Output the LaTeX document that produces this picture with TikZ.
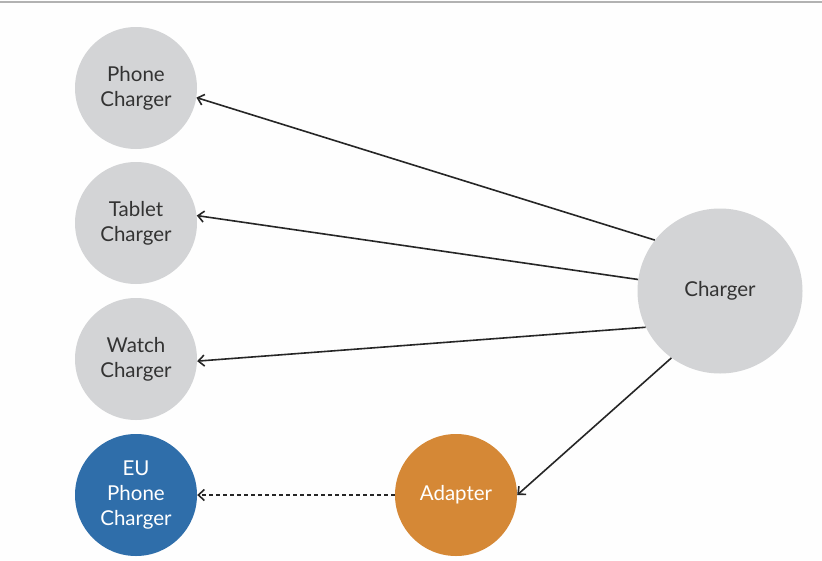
\documentclass[tikz,border=0pt]{standalone}
\usepackage{fontspec}
\setmainfont{Lato}
\usepackage{xcolor}
\usetikzlibrary{arrows.meta, positioning}

\definecolor{nutxam}{HTML}{D3D4D6}
\definecolor{nutxanh}{HTML}{2F6EAA}
\definecolor{nutcam}{HTML}{D58836}
\definecolor{chu}{HTML}{333333}

\tikzset{
    nut/.style={circle, fill=nutxam, minimum size=122pt, inner sep=0pt,
        align=center, text=chu, font=\fontsize{20.5}{25}\selectfont},
    muiten/.style={->, line width=1.6pt, black!85}
}

\begin{document}
\begin{tikzpicture}[>={Straight Barb[length=6pt, width=11pt]}, x=1pt, y=-1pt]
    % Khung nền
    \fill[white!99.5!black] (0,0) rectangle (822,560);
    \useasboundingbox (0,0) rectangle (822,560);
    \draw[black!30, line width=1.5pt] (0,2) -- (822,2);

    % Các nút bên trái
    \node[nut] (phone) at (136,88) {Phone\\Charger};
    \node[nut] (tablet) at (136,223) {Tablet\\Charger};
    \node[nut] (watch) at (136,359) {Watch\\Charger};
    \node[nut, fill=nutxanh, text=white] (eu) at (136,495) {EU\\Phone\\Charger};

    % Nút Charger và Adapter
    \node[nut, minimum size=165pt] (charger) at (720,291) {Charger};
    \node[nut, fill=nutcam, text=white] (adapter) at (456,495) {Adapter};

    % Các mũi tên
    \draw[muiten] (charger.142) -- (phone.-9);
    \draw[muiten] (charger.172) -- (tablet.7);
    \draw[muiten] (charger.206) -- (watch.-2);
    \draw[muiten] (charger.234) -- (adapter.east);
    \draw[muiten, dashed, dash pattern=on 4pt off 3pt] (adapter.west) -- (eu.east);
\end{tikzpicture}
\end{document}
